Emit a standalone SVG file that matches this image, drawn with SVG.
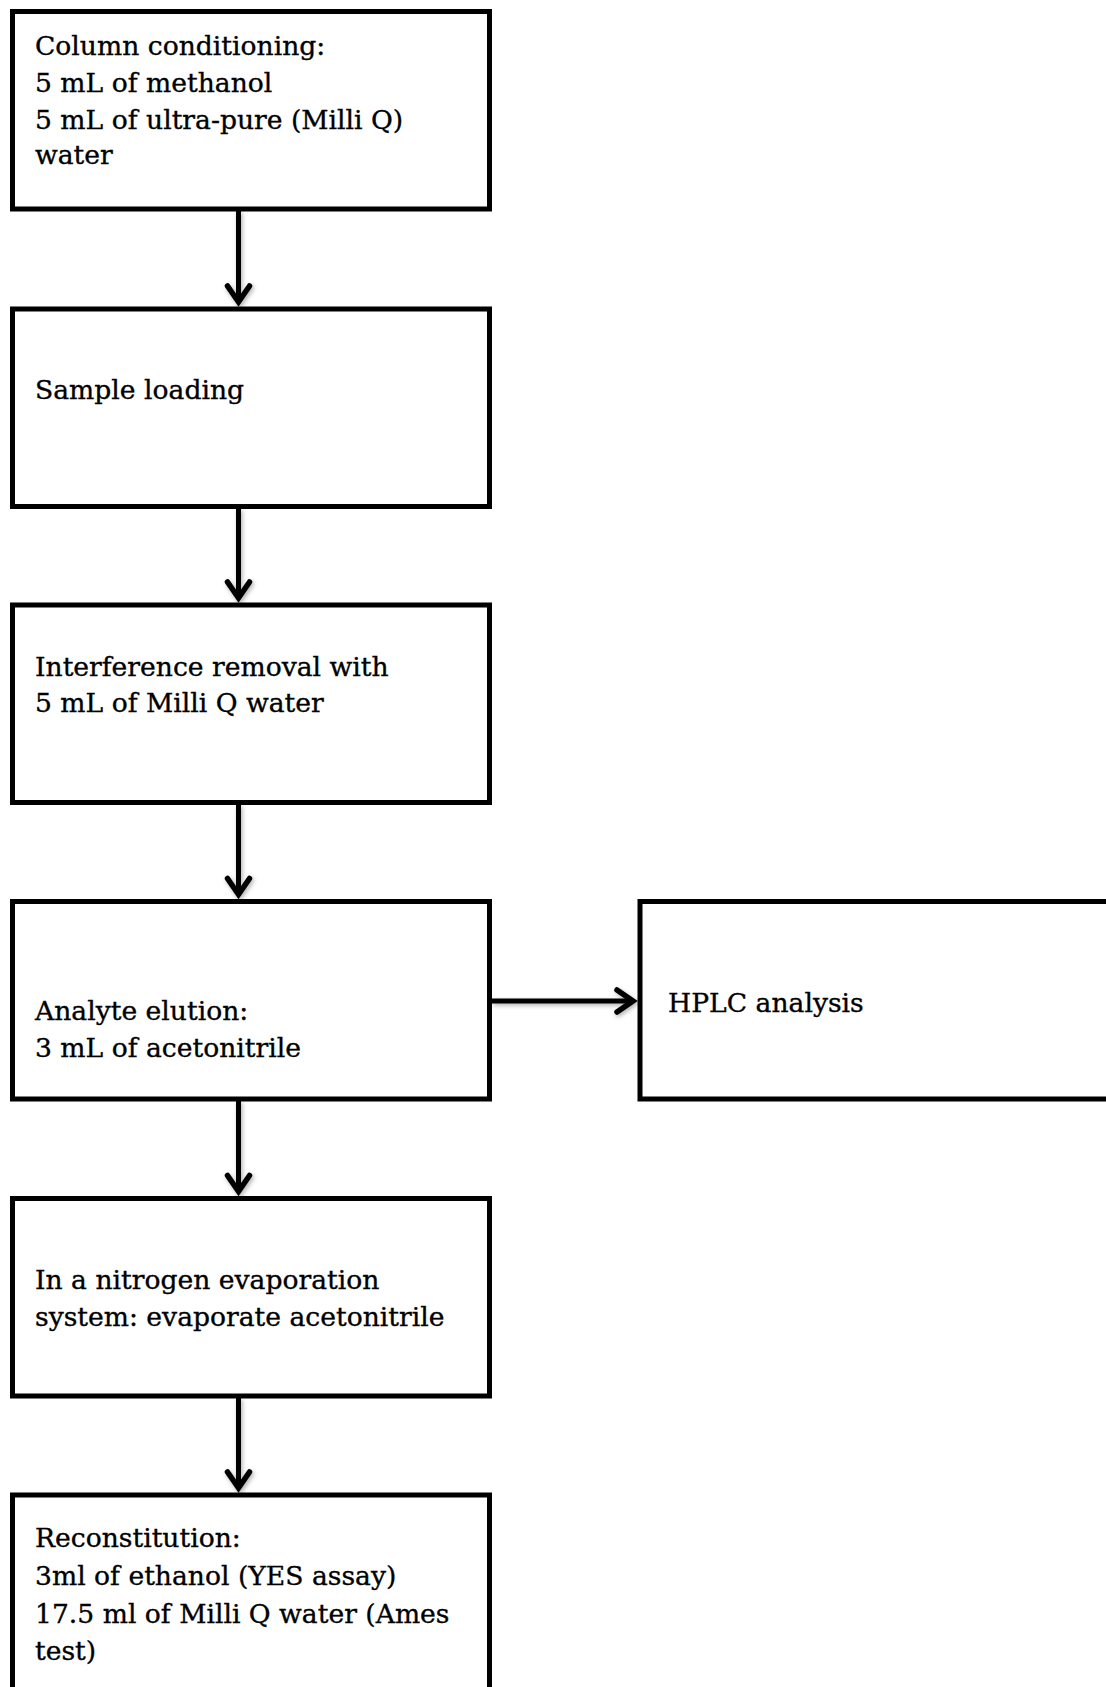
<svg xmlns="http://www.w3.org/2000/svg" width="1106" height="1687" viewBox="0 0 1106 1687">
<style>
.box{fill:#fff;stroke:#000;stroke-width:5}
.t{font-family:"DejaVu Serif","Liberation Serif",serif;font-size:26.6px;fill:#000;stroke:#000;stroke-width:0.35}
.c{fill:none;stroke:#000;stroke-width:5}
</style>
<defs>
<marker id="ah" markerUnits="userSpaceOnUse" orient="auto" refX="-3" refY="0" markerWidth="40" markerHeight="40" viewBox="-20 -20 40 40" overflow="visible">
<path d="M-16,-11 L0,0 L-16,11" fill="none" stroke="#000" stroke-width="5.5" stroke-linejoin="miter" stroke-linecap="round"/>
</marker>
<filter id="sh" x="-50%" y="-50%" width="200%" height="200%">
<feDropShadow dx="1.5" dy="2" stdDeviation="2" flood-color="#000" flood-opacity="0.3"/>
</filter>
</defs>
<rect width="1106" height="1687" fill="#fff"/>
<g id="connectors" filter="url(#sh)">
<line class="c" x1="238.5" y1="211" x2="238.5" y2="299" marker-end="url(#ah)"/>
<line class="c" x1="238.5" y1="508.5" x2="238.5" y2="595" marker-end="url(#ah)"/>
<line class="c" x1="238.5" y1="804.5" x2="238.5" y2="891.5" marker-end="url(#ah)"/>
<line class="c" x1="491.5" y1="1001" x2="630" y2="1001" marker-end="url(#ah)"/>
<line class="c" x1="238.5" y1="1101" x2="238.5" y2="1188.5" marker-end="url(#ah)"/>
<line class="c" x1="238.5" y1="1398" x2="238.5" y2="1485" marker-end="url(#ah)"/>
</g>
<g id="n1">
<rect class="box" x="12.5" y="11.5" width="477" height="197.5"/>
<text class="t" x="35" y="55">Column conditioning:</text>
<text class="t" x="35" y="92">5 mL of methanol</text>
<text class="t" x="35" y="128.5">5 mL of ultra-pure (Milli Q)</text>
<text class="t" x="35" y="164">water</text>
</g>
<g id="n2">
<rect class="box" x="12.5" y="309" width="477" height="197.5"/>
<text class="t" x="35" y="399">Sample loading</text>
</g>
<g id="n3">
<rect class="box" x="12.5" y="605" width="477" height="197.5"/>
<text class="t" x="35" y="676">Interference removal with</text>
<text class="t" x="35" y="712">5 mL of Milli Q water</text>
</g>
<g id="n4">
<rect class="box" x="12.5" y="901.5" width="477" height="197.5"/>
<text class="t" x="35" y="1020">Analyte elution:</text>
<text class="t" x="35" y="1057">3 mL of acetonitrile</text>
</g>
<g id="n5">
<rect class="box" x="640" y="901.5" width="477" height="197.5"/>
<text class="t" x="668" y="1012">HPLC analysis</text>
</g>
<g id="n6">
<rect class="box" x="12.5" y="1198.5" width="477" height="197.5"/>
<text class="t" x="35" y="1289">In a nitrogen evaporation</text>
<text class="t" x="35" y="1325.5">system: evaporate acetonitrile</text>
</g>
<g id="n7">
<rect class="box" x="12.5" y="1495" width="477" height="197.5"/>
<text class="t" x="35" y="1546.5">Reconstitution:</text>
<text class="t" x="35" y="1584.5">3ml of ethanol (YES assay)</text>
<text class="t" x="35" y="1622.5">17.5 ml of Milli Q water (Ames</text>
<text class="t" x="35" y="1660">test)</text>
</g>
</svg>
